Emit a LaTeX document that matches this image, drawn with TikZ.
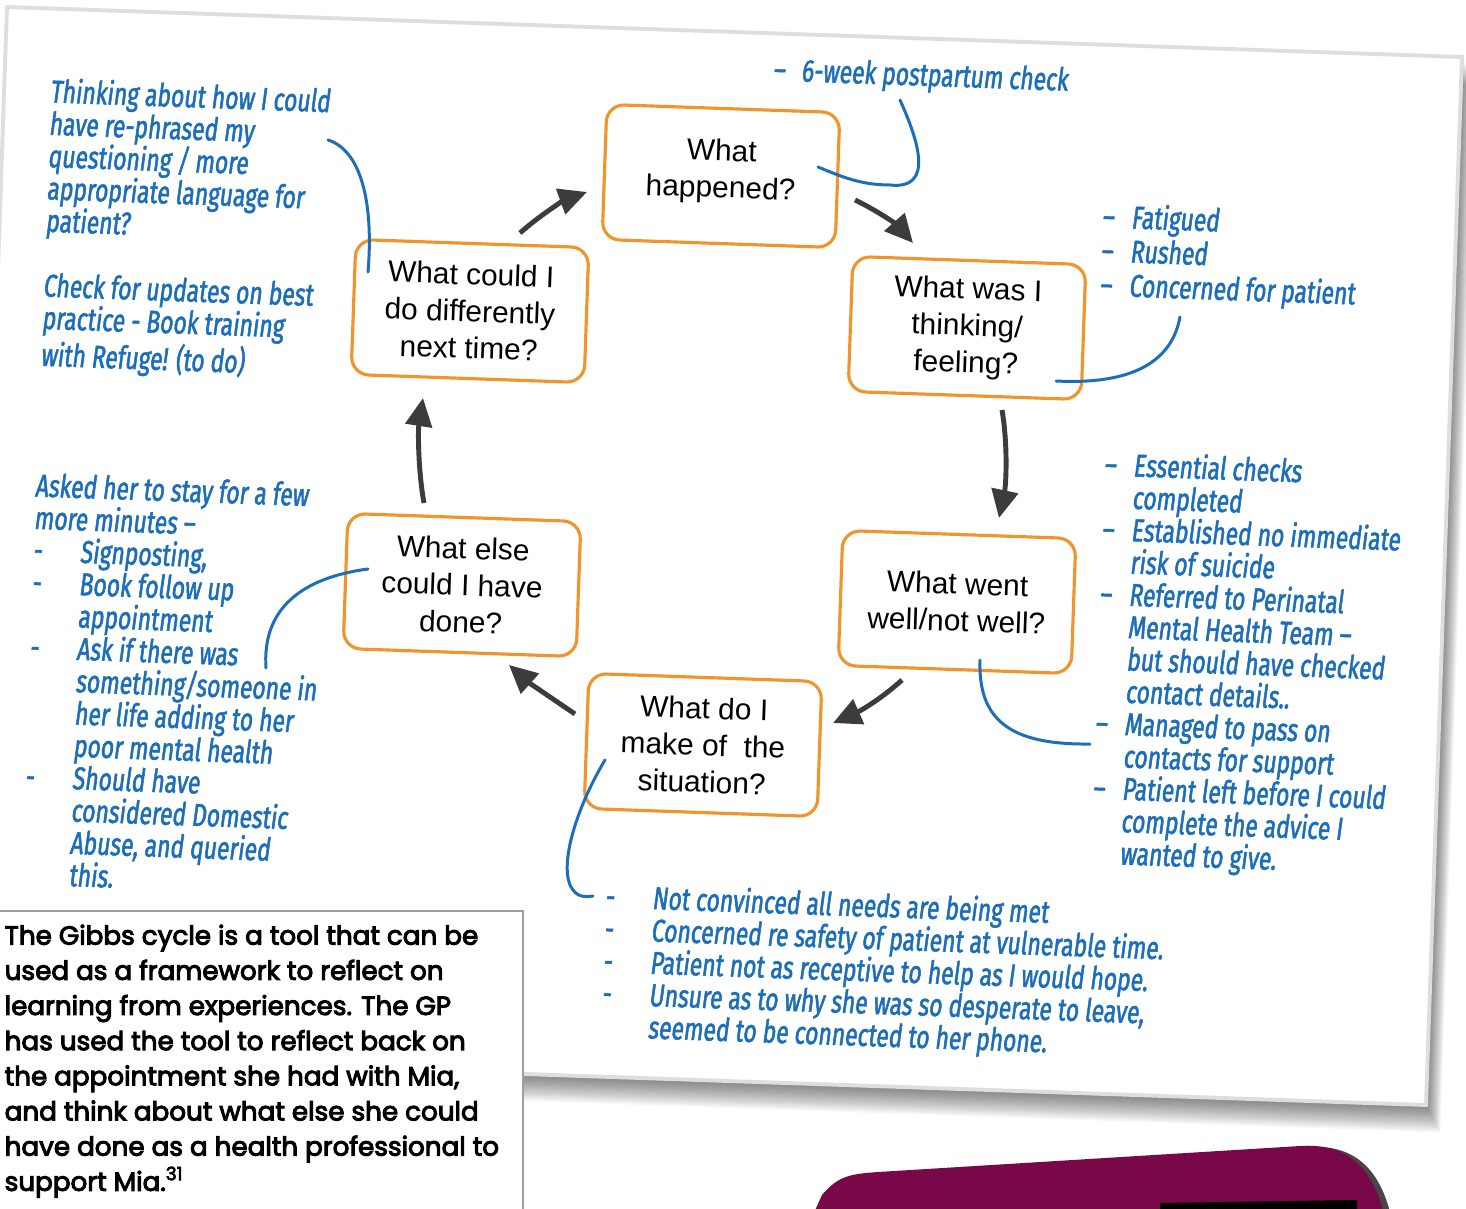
\documentclass[tikz,border=0pt]{standalone}
\usepackage{fontspec}
\setmainfont{Liberation Sans}
\newfontfamily\hand{Fira Sans}[FakeStretch=0.72, FakeSlant=0.1, FakeBold=1.6]
\newfontfamily\pop{Poppins}[FakeBold=3.8]
\usetikzlibrary{arrows.meta,calc}
\definecolor{hblue}{RGB}{28,110,186}
\definecolor{qorange}{RGB}{240,148,46}
\definecolor{adark}{RGB}{60,60,62}
\definecolor{plum}{RGB}{120,8,72}
\begin{document}
\begin{tikzpicture}[x=0.01cm,y=-0.01cm,
  q/.style={draw=qorange, line width=0.9pt, rounded corners=5pt, minimum width=2.33cm, minimum height=1.35cm, align=center, font=\fontsize{8.5}{10.5}\selectfont, rotate=-2, inner sep=0pt},
  hw/.style={text=hblue, font=\hand\fontsize{9}{9.2}\selectfont, align=left, rotate=-2, inner sep=0pt, anchor=north west},
  arr/.style={draw=adark, line width=1.4pt, -{Triangle[length=8pt,width=7.5pt]}},
  bl/.style={draw=hblue, line width=0.85pt, line cap=round}]
\useasboundingbox (0,0) rectangle (1466,1209);
\fill[white] (0,0) rectangle (1466,1209);
% purple shape
\fill[black!72, shift={(7,1)}] (813,1215) -- (822,1195) .. controls (838,1176) and (850,1174) .. (878,1172) -- (1300,1146) .. controls (1345,1143) and (1372,1165) .. (1384,1215) -- cycle;
\fill[plum] (813,1215) -- (822,1195) .. controls (838,1176) and (850,1174) .. (878,1172) -- (1300,1146) .. controls (1345,1143) and (1372,1165) .. (1384,1215) -- cycle;
\fill[black] (1160,1203) -- (1357,1200) -- (1357,1215) -- (1160,1215) -- cycle;
% card shadow
\foreach \d in {1,...,24}{
  \fill[black,opacity=0.024, shift={(\d*0.6,\d*1.15)}] (7,7) -- (1462,57) -- (1426,1105) -- (-29,1055) -- cycle;
}
% card
\fill[white, draw=black!13, line width=1.1pt] (7,7) -- (1462,57) -- (1426,1105) -- (-29,1055) -- cycle;

% cycle nodes
\node[q] (n1) at (721,176) {\raisebox{1.2pt}[\height][\depth]{\begin{tabular}{@{}c@{}}What\\happened?\end{tabular}}};
\node[q] (n2) at (967,328) {What was I\\thinking/\\feeling?};
\node[q] (n3) at (957,602) {What went\\well/not well?};
\node[q] (n4) at (703,745) {What do I\\make of\ \ the\\situation?};
\node[q] (n5) at (462,585) {What else\\could I have\\done?};
\node[q] (n6) at (470,311) {What could I\\do differently\\next time?};

% cycle arrows
\draw[arr] ($(n6)+(50,-78)$) .. controls ($(n6)+(70,-96)$) and ($(n1)+(-156,24)$) .. ($(n1)+(-134,16)$);
\draw[arr] ($(n1)+(134,24)$) .. controls ($(n1)+(159,36)$) and ($(n2)+(-69,-102)$) .. ($(n2)+(-54,-85)$);
\draw[arr] ($(n2)+(35,82)$) .. controls ($(n2)+(41,117)$) and ($(n3)+(49,-117)$) .. ($(n3)+(42,-84)$);
\draw[arr] ($(n3)+(-55,78)$) .. controls ($(n3)+(-77,98)$) and ($(n4)+(155,-33)$) .. ($(n4)+(130,-22)$);
\draw[arr] ($(n4)+(-128,-31)$) .. controls ($(n4)+(-153,-48)$) and ($(n5)+(66,97)$) .. ($(n5)+(47,80)$);
\draw[arr] ($(n5)+(-38,-82)$) .. controls ($(n5)+(-44,-115)$) and ($(n6)+(-52,119)$) .. ($(n6)+(-47,87)$);

% handwritten notes
\node[hw] (ta) at (50,77) {Thinking about how I could\\have re-phrased my\\questioning / more\\appropriate language for\\patient?};
\node[hw] (tb) at (43,272) {Check for updates on best\\practice - Book training\\with Refuge! (to do)};
\node[hw] (tc) at (773,56) {\makebox[8pt][l]{–}6-week postpartum check};
\node[hw, font=\hand\fontsize{9}{9.7}\selectfont] (td) at (1102,202) {\makebox[8.3pt][l]{–}Fatigued\\\makebox[8.3pt][l]{–}Rushed\\\makebox[8.3pt][l]{–}Concerned for patient};
\node[hw] (te) at (1104,450) {\makebox[8.3pt][l]{–}Essential checks\\
\hspace*{8.3pt}completed\\
\makebox[8.3pt][l]{–}Established no immediate\\
\hspace*{8.3pt}risk of suicide\\
\makebox[8.3pt][l]{–}Referred to Perinatal\\
\hspace*{8.3pt}Mental Health Team –\\
\hspace*{8.3pt}but should have checked\\
\hspace*{8.3pt}contact details..\\
\makebox[8.3pt][l]{–}Managed to pass on\\
\hspace*{8.3pt}contacts for support\\
\makebox[8.3pt][l]{–}Patient left before I could\\
\hspace*{8.3pt}complete the advice I\\
\hspace*{8.3pt}wanted to give.};
\node[hw] (tf) at (605,882) {\makebox[13.4pt][l]{-}Not convinced all needs are being met\\
\makebox[13.4pt][l]{-}Concerned re safety of patient at vulnerable time.\\
\makebox[13.4pt][l]{-}Patient not as receptive to help as I would hope.\\
\makebox[13.4pt][l]{-}Unsure as to why she was so desperate to leave,\\
\hspace*{13.4pt}seemed to be connected to her phone.};
\node[hw] (tg) at (35,472) {Asked her to stay for a few\\
more minutes –\\
\makebox[13.4pt][l]{-}Signposting,\\
\makebox[13.4pt][l]{-}Book follow up\\
\hspace*{13.4pt}appointment\\
\makebox[13.4pt][l]{-}Ask if there was\\
\hspace*{13.4pt}something/someone in\\
\hspace*{13.4pt}her life adding to her\\
\hspace*{13.4pt}poor mental health\\
\makebox[13.4pt][l]{-}Should have\\
\hspace*{13.4pt}considered Domestic\\
\hspace*{13.4pt}Abuse, and queried\\
\hspace*{13.4pt}this.};

% blue connectors
\draw[bl] ($(n6)+(-142,-171)$) .. controls ($(n6)+(-110,-161)$) and ($(n6)+(-96,-111)$) .. ($(n6)+(-102,-39)$);
\draw[bl] ($(n1)+(179,-76)$) .. controls ($(n1)+(197,-36)$) and ($(n1)+(214,14)$) .. ($(n1)+(169,9)$) .. controls ($(n1)+(139,9)$) and ($(n1)+(119,0)$) .. ($(n1)+(97,-9)$);
\draw[bl] ($(n2)+(213,-11)$) .. controls ($(n2)+(205,32)$) and ($(n2)+(168,57)$) .. ($(n2)+(89,53)$);
\draw[bl] ($(n3)+(23,58)$) .. controls ($(n3)+(21,118)$) and ($(n3)+(53,143)$) .. ($(n3)+(133,142)$);
\draw[bl] ($(n5)+(-94,-16)$) .. controls ($(n5)+(-162,-7)$) and ($(n5)+(-200,25)$) .. ($(n5)+(-196,83)$);
\draw[bl] ($(n4)+(-98,15)$) .. controls ($(n4)+(-125,60)$) and ($(n4)+(-143,115)$) .. ($(n4)+(-133,140)$) .. controls ($(n4)+(-127,153)$) and ($(n4)+(-118,152)$) .. ($(n4)+(-110,151)$);

% caption box
\fill[white] (-5,911) rectangle (523,1215);
\draw[black!38, line width=0.6pt] (-5,911) -- (523,911) -- (523,1215);
\node[anchor=north west, inner sep=0pt, align=left, font=\pop\fontsize{7.45}{10}\selectfont] (cap) at (4,924) {The Gibbs cycle is a tool that can be\\
used as a framework to reflect on\\
learning from experiences. The GP\\
has used the tool to reflect back on\\
the appointment she had with Mia,\\
and think about what else she could\\
have done as a health professional to\\
support Mia.\textsuperscript{31}};
\end{tikzpicture}
\end{document}
